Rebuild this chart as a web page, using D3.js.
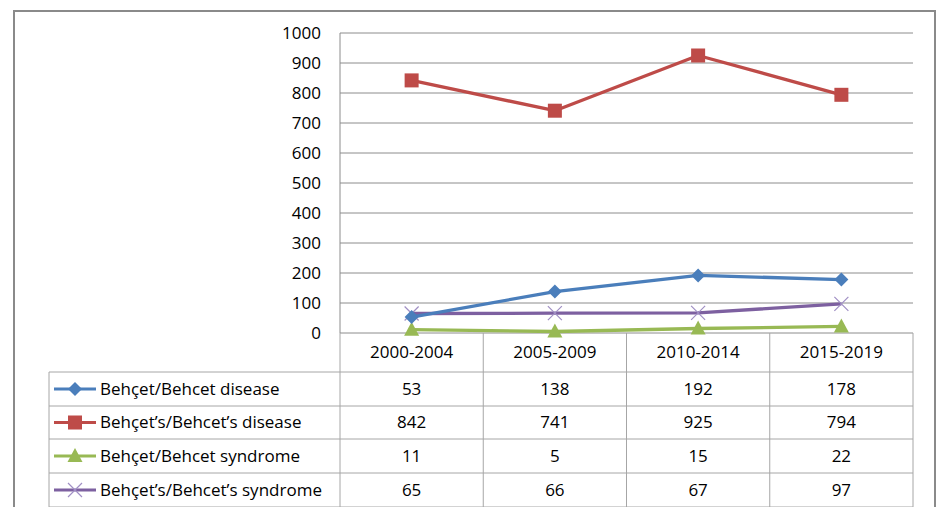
<!DOCTYPE html>
<html><head><meta charset="utf-8">
<script src="https://cdn.jsdelivr.net/npm/d3@7"></script>
<style>body{margin:0;background:#fff;}svg{display:block;}</style>
</head><body>
<svg id="c" width="939" height="507"></svg>
<script>
const categories = ["2000-2004","2005-2009","2010-2014","2015-2019"];
const seriesNames = ["Behçet/Behcet disease","Behçet’s/Behcet’s disease","Behçet/Behcet syndrome","Behçet’s/Behcet’s syndrome"];
const disease = [53,138,192,178];
const diseaseS = [842,741,925,794];
const syndrome = [11,5,15,22];
const syndromeS = [65,66,67,97];
const yTicks = [0,100,200,300,400,500,600,700,800,900,1000];
const colors = ["#4A7EBB","#BE4B48","#98B954","#7D60A0"];
const markers = ["diamond","square","triangle","x"];
const series = [disease, diseaseS, syndrome, syndromeS];

const svg = d3.select("#c");
const font = "'Open Sans', sans-serif";
const fs = 17;
const L = 340, R = 913, T = 33, B = 333;
const x = d3.scaleBand().domain(categories).range([L, R]);
const y = d3.scaleLinear().domain([0, 1000]).range([B, T]);

// outer border
svg.append("rect").attr("x",14).attr("y",11).attr("width",921).attr("height",510)
  .attr("fill","none").attr("stroke","#8a8a8a").attr("stroke-width",2);

// gridlines
svg.append("g").selectAll("line").data(yTicks).join("line")
  .attr("x1",L).attr("x2",R).attr("y1",d=>y(d)).attr("y2",d=>y(d))
  .attr("stroke","#8c8c8c").attr("stroke-width",1);
svg.append("line").attr("x1",L).attr("x2",L).attr("y1",T).attr("y2",B).attr("stroke","#8c8c8c");

// y axis labels
const yAxis = d3.axisLeft(y).tickValues(yTicks).tickFormat(d3.format("d")).tickSize(0).tickPadding(19);
const gy = svg.append("g").attr("transform",`translate(${L},0)`).call(yAxis);
gy.select(".domain").remove();
gy.selectAll("text").attr("font-family",font).attr("font-size",fs).attr("fill","#000");

// data table
const rowTop = [333,372,406,439,473,507];
const tableLeft = 49;
const tg = svg.append("g");
const cs = "#a6a6a6";
const colEdges = categories.map(c=>x(c)).concat([R]);
colEdges.forEach(cx=>{
  tg.append("line").attr("x1",cx).attr("x2",cx).attr("y1",B).attr("y2",507).attr("stroke",cs);
});
tg.append("line").attr("x1",tableLeft).attr("x2",tableLeft).attr("y1",rowTop[1]).attr("y2",507).attr("stroke",cs);
rowTop.slice(1).forEach(ry=>{
  tg.append("line").attr("x1",tableLeft).attr("x2",R).attr("y1",ry).attr("y2",ry).attr("stroke",cs);
});
tg.selectAll("text.h").data(categories).join("text").attr("class","h")
  .attr("x",d=>x(d)+x.bandwidth()/2).attr("y",(rowTop[0]+rowTop[1])/2+1)
  .attr("text-anchor","middle").attr("dominant-baseline","middle")
  .attr("font-family",font).attr("font-size",fs).attr("fill","#000").text(d=>d);

function marker(g, type, color, cx, cy){
  if(type==="diamond"){
    g.append("path").attr("d",`M${cx},${cy-7}L${cx+7},${cy}L${cx},${cy+7}L${cx-7},${cy}Z`).attr("fill",color);
  } else if(type==="square"){
    g.append("rect").attr("x",cx-7).attr("y",cy-7).attr("width",14).attr("height",14).attr("fill",color);
  } else if(type==="triangle"){
    g.append("path").attr("d",`M${cx},${cy-8}L${cx+7.5},${cy+6}L${cx-7.5},${cy+6}Z`).attr("fill",color);
  } else {
    g.append("path").attr("d",`M${cx-7},${cy-7}L${cx+7},${cy+7}M${cx+7},${cy-7}L${cx-7},${cy+7}`)
      .attr("stroke","#a08fc4").attr("stroke-width",1.2).attr("fill","none");
  }
}

series.forEach((vals,i)=>{
  const r0 = rowTop[i+1], r1 = rowTop[i+2];
  const cy = (r0+r1)/2;
  tg.append("line").attr("x1",54).attr("x2",96).attr("y1",cy).attr("y2",cy)
    .attr("stroke",colors[i]).attr("stroke-width",3);
  marker(tg, markers[i], colors[i], 75, cy);
  tg.append("text").attr("x",100).attr("y",cy+1).attr("dominant-baseline","middle")
    .attr("font-family",font).attr("font-size",fs).attr("fill","#000").text(seriesNames[i]);
  tg.selectAll(null).data(vals).join("text")
    .attr("x",(d,j)=>x(categories[j])+x.bandwidth()/2).attr("y",cy+1)
    .attr("text-anchor","middle").attr("dominant-baseline","middle")
    .attr("font-family",font).attr("font-size",fs).attr("fill","#000").text(d=>d);
});

const lg = svg.append("g");
const line = d3.line().x((d,j)=>x(categories[j])+x.bandwidth()/2).y(d=>y(d));
[3,2,1,0].forEach(i=>{
  lg.append("path").datum(series[i]).attr("d",line).attr("fill","none")
    .attr("stroke",colors[i]).attr("stroke-width",3.3).attr("stroke-linejoin","round");
});
[3,2,1,0].forEach(i=>{
  series[i].forEach((v,j)=>marker(lg, markers[i], colors[i], x(categories[j])+x.bandwidth()/2, y(v)));
});
</script>
</body></html>
